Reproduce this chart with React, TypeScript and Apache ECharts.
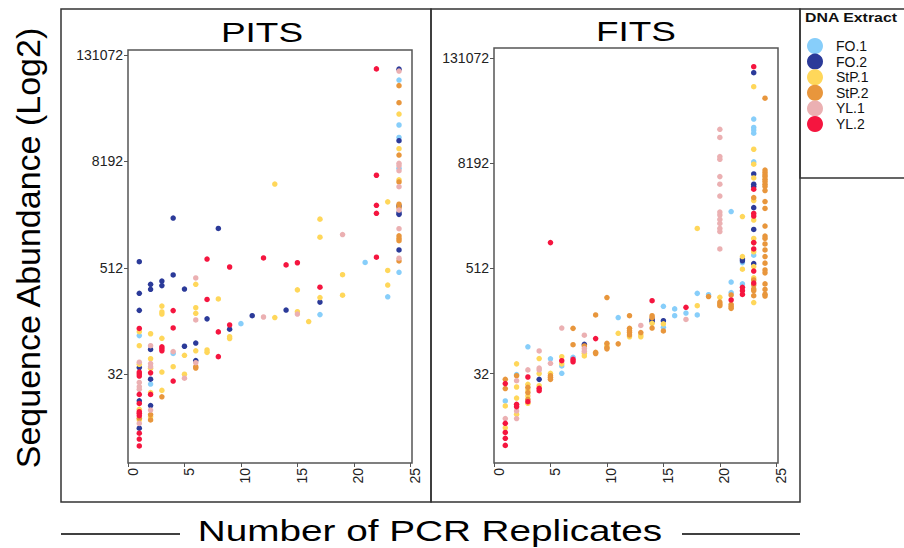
import React, { useEffect, useRef } from "react";
import * as echarts from "echarts";

const seriesNames = ["FO.1", "FO.2", "StP.1", "StP.2", "YL.1", "YL.2"];
const seriesColors = ["#87CEFA", "#2B3A99", "#FFD75A", "#E8963C", "#EBB0B2", "#F5153F"];
const panelTitles = ["PITS", "FITS"];
const xTicks = [0, 5, 10, 15, 20, 25];
// tick positions on the log2 scale: 32, 512, 8192, 131072
const yTicksLog2 = [5, 9, 13, 17];

// PITS panel: [number of PCR replicates, log2(sequence abundance)]
const pitsFO1 = [[1,6.45],[2,4.63],[4,5.78],[10,6.90],[17,7.24],[21,9.2],[23,7.91],[24,16.06],[24,14.37],[24,13.90],[24,12.74],[24,8.83]];
const pitsFO2 = [[1,9.23],[1,8.04],[1,7.40],[1,5.25],[1,4.00],[1,2.97],[2,8.38],[2,8.19],[2,5.93],[2,4.81],[2,3.82],[3,8.50],[3,8.33],[4,10.87],[4,8.73],[5,8.20],[5,6.05],[6,6.17],[6,5.51],[7,7.08],[8,10.48],[9,6.69],[11,7.20],[14,7.41],[17,7.71],[24,16.47],[24,13.78],[24,11.32],[24,11.07],[24,11.01],[24,9.67]];
const pitsStP1 = [[1,6.60],[1,6.07],[1,5.37],[1,3.68],[1,3.28],[2,6.52],[2,5.58],[2,5.22],[2,4.31],[2,3.40],[3,7.56],[3,7.34],[3,7.26],[3,6.35],[3,5.08],[3,4.39],[4,5.28],[5,5.71],[5,5.00],[6,8.38],[6,7.50],[6,7.29],[6,5.88],[7,5.91],[7,5.82],[8,7.83],[9,6.41],[9,6.34],[13,12.15],[13,7.13],[15,8.17],[15,7.35],[16,6.98],[17,10.83],[17,10.15],[17,7.88],[19,8.74],[19,7.97],[23,11.48],[23,8.90],[23,8.35],[24,14.78],[24,13.48],[24,12.31]];
const pitsStP2 = [[1,3.34],[2,3.48],[2,3.28],[3,4.15],[6,5.28],[6,5.23],[24,15.85],[24,15.21],[24,13.24],[24,12.23],[24,11.39],[24,11.26],[24,10.20],[24,10.10],[24,10.02],[24,9.26]];
const pitsYL1 = [[1,5.45],[1,4.69],[1,4.53],[1,4.43],[1,3.15],[2,6.07],[2,5.40],[2,5.28],[2,3.65],[4,5.85],[5,4.85],[6,8.62],[6,7.04],[6,5.43],[12,7.15],[15,7.26],[19,10.25],[24,16.40],[24,12.93],[24,12.84],[24,12.65],[24,12.05],[24,11.17],[24,10.47],[24,9.36]];
const pitsYL2 = [[1,6.72],[1,5.08],[1,5.01],[1,4.93],[1,4.24],[1,3.90],[1,3.59],[1,3.53],[1,3.44],[1,2.78],[1,2.56],[1,2.30],[2,5.05],[2,4.24],[3,6.03],[3,5.96],[3,5.88],[4,7.39],[4,6.74],[4,4.74],[7,9.33],[7,7.81],[8,6.59],[8,5.66],[9,9.03],[9,6.85],[12,9.37],[14,9.11],[15,9.19],[17,8.27],[22,16.48],[22,12.48],[22,11.35],[22,11.05],[22,9.40]];

// FITS panel
const fitsFO1 = [[1,3.96],[2,4.96],[3,6.02],[5,5.56],[6,5.29],[6,5.01],[7,5.62],[11,7.13],[15,7.56],[15,6.76],[16,7.46],[16,7.20],[17,7.30],[18,8.05],[18,7.23],[19,8.00],[21,11.16],[21,8.48],[21,8.08],[22,9.22],[22,8.41],[23,14.68],[23,14.36],[23,14.26],[23,14.14],[23,13.05],[23,9.50]];
const fitsFO2 = [[4,4.78],[8,6.11],[14,7.06],[14,6.99],[15,7.01],[22,9.36],[22,9.29],[23,16.44],[23,12.59],[23,12.20],[23,12.11],[23,11.31],[23,10.48],[23,9.18]];
const fitsStP1 = [[1,3.77],[1,2.94],[2,5.37],[2,4.49],[2,4.07],[2,3.45],[3,4.59],[3,4.38],[3,4.15],[3,3.87],[4,5.57],[4,5.00],[4,4.54],[5,5.01],[6,5.64],[6,5.37],[8,5.77],[8,5.67],[10,6.07],[11,6.53],[12,6.40],[13,6.47],[13,6.40],[14,6.91],[15,6.89],[18,10.52],[18,7.58],[20,7.90],[22,10.97],[22,9.45],[22,8.97],[23,15.91],[23,13.53],[23,12.96],[23,12.44],[23,11.58],[23,10.84],[23,10.14],[23,9.63],[23,9.07],[23,8.64],[23,7.70]];
const fitsStP2 = [[1,4.78],[1,4.43],[2,4.92],[3,4.48],[3,4.28],[3,4.02],[5,4.92],[5,4.86],[5,4.78],[7,6.72],[7,6.10],[8,6.05],[9,7.23],[9,5.81],[9,5.76],[10,7.89],[10,6.15],[10,5.99],[10,5.94],[11,6.13],[12,7.20],[12,6.72],[12,6.63],[12,6.56],[12,6.47],[13,6.56],[14,7.20],[14,7.13],[14,6.73],[15,6.62],[19,7.93],[20,7.72],[20,7.65],[20,7.58],[21,7.99],[21,7.63],[21,7.55],[21,7.48],[23,11.69],[23,9.98],[23,8.56],[23,8.37],[23,8.22],[23,8.15],[23,7.96],[24,15.47],[24,12.74],[24,12.65],[24,12.56],[24,12.49],[24,12.39],[24,12.30],[24,12.20],[24,12.11],[24,11.96],[24,11.54],[24,11.28],[24,10.61],[24,10.23],[24,10.14],[24,9.93],[24,9.70],[24,9.45],[24,9.20],[24,8.94],[24,8.83],[24,8.41],[24,8.20],[24,8.02],[24,7.95]];
const fitsYL1 = [[1,3.29],[2,4.73],[2,3.58],[2,3.29],[3,5.14],[4,5.86],[4,5.21],[4,5.14],[5,5.39],[6,6.73],[8,6.46],[8,5.95],[8,5.85],[13,6.83],[17,7.06],[20,14.29],[20,13.98],[20,13.25],[20,13.15],[20,12.49],[20,12.20],[20,11.75],[20,11.14],[20,11.03],[20,10.86],[20,10.71],[20,10.52],[20,10.40],[20,9.74]];
const fitsYL2 = [[1,4.62],[1,3.11],[1,2.76],[1,2.54],[1,2.27],[2,3.83],[2,3.74],[3,4.87],[3,3.93],[4,4.44],[4,4.35],[5,9.98],[6,5.49],[7,5.54],[7,5.45],[9,6.33],[14,7.77],[17,7.52],[21,7.80],[22,8.28],[22,8.15],[22,8.01],[23,16.67],[23,12.01],[23,11.09],[23,10.99],[23,9.98],[23,9.74],[23,8.90],[23,8.44]];

const pitsData = [pitsFO1, pitsFO2, pitsStP1, pitsStP2, pitsYL1, pitsYL2];
const fitsData = [fitsFO1, fitsFO2, fitsStP1, fitsStP2, fitsYL1, fitsYL2];

const FONT = "'Liberation Sans', Arial, sans-serif";

export default function App() {
  const ref = useRef<HTMLDivElement>(null);

  useEffect(() => {
    document.body.style.margin = "0";
    if (!ref.current) return;
    const chart = echarts.init(ref.current, null, { renderer: "svg" });

    const grids = [
      { left: 128, top: 50, width: 284, height: 413 },
      { left: 494, top: 48, width: 284, height: 415 },
    ];
    const yRanges = [
      [1.66, 17.19],
      [1.6, 17.38],
    ];

    const xAxes = grids.map((_, i) => ({
      type: "value",
      gridIndex: i,
      min: 0,
      max: 25.15,
      axisLine: { show: false },
      splitLine: { show: false },
      axisTick: {
        show: true,
        length: 4,
        customValues: xTicks,
        lineStyle: { color: "#555", width: 1 },
      },
      axisLabel: {
        customValues: xTicks,
        rotate: 90,
        margin: 5,
        fontSize: 14,
        fontFamily: FONT,
        color: "#222",
        verticalAlign: "top",
        lineHeight: 9,
        formatter: (v: number) => String(v),
      },
    }));

    const yAxes = grids.map((_, i) => ({
      type: "value",
      gridIndex: i,
      min: yRanges[i][0],
      max: yRanges[i][1],
      axisLine: { show: false },
      splitLine: { show: false },
      axisTick: {
        show: true,
        length: 4,
        customValues: yTicksLog2,
        lineStyle: { color: "#555", width: 1 },
      },
      axisLabel: {
        customValues: yTicksLog2,
        margin: 5,
        fontSize: 14,
        fontFamily: FONT,
        color: "#222",
        formatter: (v: number) => String(Math.round(Math.pow(2, v))),
      },
    }));

    const series: any[] = [];
    [pitsData, fitsData].forEach((panel, p) => {
      panel.forEach((d, k) => {
        series.push({
          type: "scatter",
          name: seriesNames[k],
          xAxisIndex: p,
          yAxisIndex: p,
          data: d,
          symbol: "circle",
          symbolSize: 5.5,
          itemStyle: { color: seriesColors[k], opacity: 1 },
          emphasis: { disabled: true },
        });
      });
    });

    const option = {
      animation: false,
      backgroundColor: "#ffffff",
      grid: grids.map((g) => ({
        ...g,
        show: true,
        borderColor: "#555",
        borderWidth: 1.5,
        backgroundColor: "transparent",
        containLabel: false,
      })),
      xAxis: xAxes,
      yAxis: yAxes,
      legend: {
        data: seriesNames,
        orient: "vertical",
        left: 802,
        top: 33,
        icon: "circle",
        itemWidth: 32,
        itemHeight: 16,
        itemGap: -0.4,
        textStyle: { fontSize: 14, fontFamily: FONT, color: "#111" },
        selectedMode: false,
      },
      graphic: [
        // panel frames
        { type: "rect", shape: { x: 61, y: 9, width: 370, height: 493 }, style: { fill: "none", stroke: "#333", lineWidth: 1.5 }, silent: true },
        { type: "rect", shape: { x: 431, y: 9, width: 369, height: 493 }, style: { fill: "none", stroke: "#333", lineWidth: 1.5 }, silent: true },
        // legend frame
        { type: "rect", shape: { x: 800, y: 9, width: 120, height: 169 }, style: { fill: "none", stroke: "#333", lineWidth: 1.5 }, silent: true },
        {
          type: "text",
          x: 851,
          y: 18,
          style: { text: "DNA Extract", font: `bold 13px ${FONT}`, fill: "#111", align: "center", verticalAlign: "middle" },
          scaleX: 1.22,
          silent: true,
        },
        // panel titles
        {
          type: "text",
          x: 262,
          y: 32,
          scaleX: 1.32,
          style: { text: panelTitles[0], font: `28px ${FONT}`, fill: "#000", align: "center", verticalAlign: "middle" },
          silent: true,
        },
        {
          type: "text",
          x: 636,
          y: 31,
          scaleX: 1.32,
          style: { text: panelTitles[1], font: `28px ${FONT}`, fill: "#000", align: "center", verticalAlign: "middle" },
          silent: true,
        },
        // y-axis title
        {
          type: "text",
          x: 28,
          y: 248,
          rotation: Math.PI / 2,
          style: { text: "Sequence Abundance (Log2)", font: `34px ${FONT}`, fill: "#000", align: "center", verticalAlign: "middle" },
          silent: true,
        },
        // x-axis title with side rules
        {
          type: "text",
          x: 430,
          y: 531,
          scaleX: 1.29,
          style: { text: "Number of PCR Replicates", font: `30px ${FONT}`, fill: "#000", align: "center", verticalAlign: "middle" },
          silent: true,
        },
        { type: "line", shape: { x1: 61, y1: 534, x2: 180, y2: 534 }, style: { stroke: "#000", lineWidth: 1.5 }, silent: true },
        { type: "line", shape: { x1: 682, y1: 534, x2: 800, y2: 534 }, style: { stroke: "#000", lineWidth: 1.5 }, silent: true },
      ],
      series,
    };

    chart.setOption(option as any);
    return () => chart.dispose();
  }, []);

  return (
    <div
      ref={ref}
      style={{ position: "absolute", left: 0, top: 0, width: 904, height: 548, background: "#fff" }}
    />
  );
}
